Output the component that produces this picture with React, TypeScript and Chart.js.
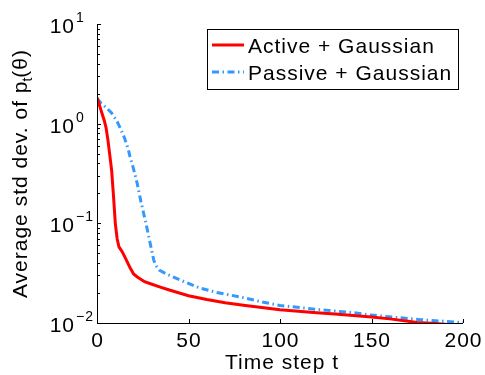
import React, { useEffect, useRef } from "react";
import { Chart, registerables } from "chart.js";

Chart.register(...registerables);

const activeT = [0, 1, 2, 3, 4, 5, 6, 7, 8, 9, 10, 11, 12, 14, 16, 18, 20, 22, 26, 30, 35, 40, 50, 60, 70, 80, 90, 100, 110, 120, 130, 140, 150, 160, 170, 175, 180, 185, 190, 200];
const activeVals = [1.82, 1.6, 1.4, 1.22, 1.07, 0.9, 0.68, 0.48, 0.34, 0.19, 0.1, 0.07, 0.058, 0.051, 0.043, 0.036, 0.031, 0.029, 0.026, 0.0245, 0.0228, 0.0213, 0.0188, 0.0172, 0.016, 0.0151, 0.0143, 0.0136, 0.0131, 0.0127, 0.0123, 0.0119, 0.0115, 0.011, 0.0104, 0.0101, 0.01, 0.0099, 0.0097, 0.0094];

const passiveT = [0, 2, 5, 8, 11, 13, 15, 17, 18, 20, 22, 24, 26, 28, 30, 31, 32, 34, 38, 45, 56, 65, 78, 90, 100, 120, 140, 150, 165, 177, 190, 200];
const passiveVals = [1.8, 1.62, 1.45, 1.28, 1.05, 0.88, 0.72, 0.56, 0.47, 0.35, 0.25, 0.165, 0.115, 0.078, 0.052, 0.043, 0.038, 0.034, 0.031, 0.0272, 0.0225, 0.0203, 0.0183, 0.0163, 0.015, 0.0137, 0.0127, 0.012, 0.0113, 0.0108, 0.0104, 0.0101];

const seriesLabels = ["Active + Gaussian", "Passive + Gaussian"];
const xTickValues = [0, 50, 100, 150, 200];
const yDecadeExponents = [-2, -1, 0, 1];
const xTitle = "Time step t";
const yTitleMain = "Average std dev. of p";
const yTitleSub = "t";
const yTitleEnd = "(\u03b8)";

const FONT = "'Liberation Sans', Arial, Helvetica, sans-serif";
const RED = "#ff0000";
const BLUE = "#3399ff";
const BLUE_DASH = [7, 3.5, 1.5, 3.5];

const drawPlugin = {
  id: "matlabDecor",
  afterDraw(chart: any) {
    const ctx = chart.ctx as CanvasRenderingContext2D;
    const xs = chart.scales.x;
    const ys = chart.scales.y;
    const { left, right, top, bottom } = chart.chartArea;
    ctx.save();
    (ctx as any).letterSpacing = "1px";
    ctx.strokeStyle = "#000";
    ctx.lineWidth = 1;
    // axes lines (box off)
    ctx.beginPath();
    ctx.moveTo(left + 0.5, top);
    ctx.lineTo(left + 0.5, bottom + 0.5);
    ctx.lineTo(right, bottom + 0.5);
    ctx.stroke();
    // x ticks
    ctx.beginPath();
    for (const v of xTickValues) {
      const px = Math.round(xs.getPixelForValue(v)) + 0.5;
      ctx.moveTo(px, bottom);
      ctx.lineTo(px, bottom - 4);
    }
    // y ticks
    for (const e of yDecadeExponents) {
      const py = Math.round(ys.getPixelForValue(Math.pow(10, e))) + 0.5;
      ctx.moveTo(left, py);
      ctx.lineTo(left + 4, py);
      if (e < 1) {
        for (let k = 2; k <= 9; k++) {
          const pm = Math.round(ys.getPixelForValue(k * Math.pow(10, e))) + 0.5;
          ctx.moveTo(left, pm);
          ctx.lineTo(left + 3, pm);
        }
      }
    }
    ctx.stroke();

    ctx.fillStyle = "#000";
    // x tick labels
    ctx.font = `21px ${FONT}`;
    ctx.textAlign = "center";
    ctx.textBaseline = "alphabetic";
    for (const v of xTickValues) {
      const px = xs.getPixelForValue(v);
      ctx.fillText(String(v), px + 0.5, bottom + 24);
    }
    // y tick labels 10^e
    for (const e of yDecadeExponents) {
      const py = ys.getPixelForValue(Math.pow(10, e));
      ctx.font = `21px ${FONT}`;
      ctx.textAlign = "right";
      ctx.fillText("10", left - 22, py + 9);
      ctx.font = `14px ${FONT}`;
      ctx.textAlign = "left";
      ctx.fillText(e < 0 ? "\u2212" + String(-e) : String(e), left - 21, py - 2);
    }
    // x title
    ctx.font = `21px ${FONT}`;
    ctx.textAlign = "center";
    ctx.fillText(xTitle, (left + right) / 2 + 2, bottom + 46);

    // y title rotated with subscript
    ctx.save();
    ctx.translate(27, (top + bottom) / 2 - 1);
    ctx.rotate(-Math.PI / 2);
    ctx.textAlign = "left";
    ctx.font = `21px ${FONT}`;
    const wMain = ctx.measureText(yTitleMain).width;
    const wEnd = ctx.measureText(yTitleEnd).width;
    ctx.font = `14px ${FONT}`;
    const wSub = ctx.measureText(yTitleSub).width;
    const total = wMain + wSub + wEnd;
    let x0 = -total / 2;
    ctx.font = `21px ${FONT}`;
    ctx.fillText(yTitleMain, x0, 0);
    x0 += wMain;
    ctx.font = `14px ${FONT}`;
    ctx.fillText(yTitleSub, x0 - 1, 5);
    x0 += wSub;
    ctx.font = `21px ${FONT}`;
    ctx.fillText(yTitleEnd, x0 - 2, 0);
    ctx.restore();

    // legend
    const lx = 207, ly = 29, lw = 251, lh = 60;
    ctx.fillStyle = "#fff";
    ctx.fillRect(lx, ly, lw, lh);
    ctx.strokeStyle = "#000";
    ctx.lineWidth = 1;
    ctx.strokeRect(lx + 0.5, ly + 0.5, lw, lh);
    const rows = [
      { y: 45, color: RED, width: 3, dash: [] as number[] },
      { y: 72, color: BLUE, width: 3, dash: BLUE_DASH },
    ];
    rows.forEach((r, i) => {
      ctx.beginPath();
      ctx.strokeStyle = r.color;
      ctx.lineWidth = r.width;
      ctx.setLineDash(r.dash);
      ctx.moveTo(212, r.y);
      ctx.lineTo(244, r.y);
      ctx.stroke();
      ctx.setLineDash([]);
      ctx.fillStyle = "#000";
      ctx.font = `21px ${FONT}`;
      ctx.textAlign = "left";
      ctx.fillText(seriesLabels[i], 248, r.y + 8);
    });
    ctx.restore();
  },
};

export default function App() {
  const ref = useRef<HTMLCanvasElement | null>(null);
  useEffect(() => {
    document.body.style.margin = "0";
    const canvas = ref.current!;
    const chart = new Chart(canvas, {
      type: "line",
      data: {
        datasets: [
          {
            label: seriesLabels[0],
            data: activeT.map((t, i) => ({ x: t, y: activeVals[i] })),
            borderColor: RED,
            borderWidth: 3,
            pointRadius: 0,
            fill: false,
            tension: 0,
          },
          {
            label: seriesLabels[1],
            data: passiveT.map((t, i) => ({ x: t, y: passiveVals[i] })),
            borderColor: BLUE,
            borderWidth: 3,
            borderDash: BLUE_DASH,
            pointRadius: 0,
            fill: false,
            tension: 0,
          },
        ],
      },
      options: {
        animation: false,
        responsive: false,
        maintainAspectRatio: false,
        layout: { padding: { left: 0, right: 22, top: 24, bottom: 0 } },
        plugins: { legend: { display: false }, tooltip: { enabled: false } },
        scales: {
          x: {
            type: "linear",
            min: 0,
            max: 200,
            grid: { display: false, drawTicks: false },
            border: { display: false },
            ticks: { display: false },
            afterFit: (s: any) => {
              s.height = 52;
            },
          },
          y: {
            type: "logarithmic",
            min: 0.01,
            max: 10,
            grid: { display: false, drawTicks: false },
            border: { display: false },
            ticks: { display: false },
            afterFit: (s: any) => {
              s.width = 97;
            },
          },
        },
      },
      plugins: [drawPlugin],
    });
    return () => chart.destroy();
  }, []);
  return (
    <div style={{ position: "absolute", left: 0, top: 0, width: 485, height: 375, background: "#fff" }}>
      <canvas ref={ref} width={485} height={375} />
    </div>
  );
}
